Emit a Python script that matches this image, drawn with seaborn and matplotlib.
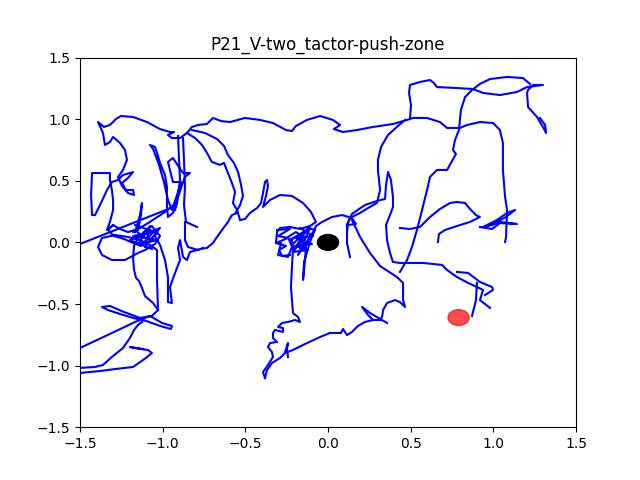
import matplotlib
matplotlib.use("Agg")
import matplotlib.pyplot as plt
import pandas as pd
import seaborn as sns

title = "P21_V-two_tactor-push-zone"
ticks = [-1.5, -1.0, -0.5, 0.0, 0.5, 1.0, 1.5]

# trajectory pieces (x, y)
hook_low = [(-1.585, -1.084), (-1.5, -1.060), (-1.379, -1.044), (-1.288, -1.028), (-1.179, -1.011),
            (-1.101, -0.938), (-1.065, -0.898), (-1.089, -0.873), (-1.137, -0.865), (-1.198, -0.849),
            (-1.119, -0.865)]
hook_up = [(-1.585, -1.036), (-1.5, -1.019), (-1.409, -1.011), (-1.361, -0.995), (-1.307, -0.930),
           (-1.240, -0.857), (-1.198, -0.776), (-1.173, -0.711), (-1.149, -0.670), (-1.125, -0.646)]
left_rise = [(-1.585, -0.890), (-1.5, -0.857), (-1.319, -0.743), (-1.167, -0.646), (-1.077, -0.597),
             (-1.004, -0.654), (-0.944, -0.678), (-0.950, -0.703), (-1.016, -0.678), (-1.101, -0.637),
             (-1.179, -0.613), (-1.258, -0.581), (-1.331, -0.549), (-1.367, -0.524), (-1.319, -0.516),
             (-1.234, -0.565), (-1.137, -0.613), (-1.065, -0.597), (-1.028, -0.549), (-1.058, -0.492),
             (-1.107, -0.435), (-1.125, -0.370), (-1.143, -0.313), (-1.161, -0.289), (-1.173, -0.224),
             (-1.179, -0.127), (-1.173, -0.029), (-1.149, 0.036)]
left_knot = [(-1.149, 0.036), (-1.101, 0.101), (-1.065, 0.133), (-1.034, 0.076), (-1.077, 0.019),
             (-1.125, 0.052), (-1.167, 0.101), (-1.210, 0.084), (-1.258, 0.109), (-1.300, 0.141),
             (-1.331, 0.101), (-1.294, 0.052), (-1.234, 0.028), (-1.179, -0.005), (-1.131, -0.029),
             (-1.089, 0.036), (-1.046, 0.101), (-1.016, 0.052), (-1.046, -0.013), (-1.107, -0.062),
             (-1.149, -0.086), (-1.228, -0.143), (-1.307, -0.143), (-1.367, -0.102), (-1.391, -0.037),
             (-1.367, 0.036), (-1.288, 0.060), (-1.210, 0.044), (-1.137, 0.019), (-1.077, -0.021),
             (-1.034, -0.062), (-1.034, -0.305), (-1.028, -0.549)]
left_zigzag = [(-1.167, 0.141), (-1.046, 0.084), (-1.179, 0.052), (-1.028, 0.019), (-1.149, -0.013),
               (-1.077, 0.133), (-1.107, -0.037), (-1.016, 0.117), (-1.198, 0.019), (-1.065, -0.054)]
left_drops = [(-1.046, 0.052), (-1.016, -0.021), (-0.986, -0.143), (-0.968, -0.281), (-0.968, -0.484),
              (-0.944, -0.492), (-0.956, -0.362), (-0.925, -0.248), (-0.895, -0.143), (-0.907, -0.045),
              (-0.895, 0.019), (-0.877, -0.118), (-0.853, -0.143), (-0.835, -0.078), (-0.774, -0.054),
              (-0.732, -0.045), (-0.696, -0.005), (-0.671, 0.044), (-0.641, 0.101), (-0.605, 0.166),
              (-0.581, 0.222), (-0.550, 0.239)]
spike_left = [(-1.167, 0.084), (-1.137, 0.222), (-1.125, 0.320), (-1.131, 0.222), (-1.149, 0.101)]
diag_left = [(-1.179, 0.084), (-1.077, 0.166), (-0.986, 0.247), (-0.919, 0.320)]
top_run = [(-1.300, 0.141), (-1.337, 0.101), (-1.319, 0.166), (-1.300, 0.263), (-1.300, 0.344),
           (-1.307, 0.425), (-1.319, 0.506), (-1.319, 0.563), (-1.427, 0.563), (-1.433, 0.385),
           (-1.427, 0.222), (-1.409, 0.222), (-1.373, 0.320), (-1.337, 0.425), (-1.307, 0.490),
           (-1.270, 0.506), (-1.240, 0.547), (-1.179, 0.571), (-1.210, 0.523), (-1.246, 0.482),
           (-1.222, 0.425), (-1.179, 0.425), (-1.173, 0.385), (-1.210, 0.401), (-1.246, 0.458),
           (-1.270, 0.531), (-1.240, 0.588), (-1.216, 0.669), (-1.228, 0.750), (-1.258, 0.807),
           (-1.300, 0.856), (-1.319, 0.815), (-1.349, 0.791), (-1.361, 0.888), (-1.391, 0.977),
           (-1.355, 0.937), (-1.319, 0.953), (-1.282, 1.002), (-1.252, 1.026), (-1.179, 1.018),
           (-1.095, 0.977), (-1.016, 0.920), (-0.956, 0.896), (-0.931, 0.896), (-0.968, 0.872),
           (-0.944, 0.847), (-0.895, 0.847), (-0.853, 0.888), (-0.823, 0.937), (-0.786, 0.953),
           (-0.732, 0.961), (-0.696, 1.010), (-0.647, 0.985), (-0.593, 0.977), (-0.502, 1.010),
           (-0.411, 0.994), (-0.333, 0.969), (-0.254, 0.912), (-0.218, 0.904), (-0.194, 0.945),
           (-0.127, 0.994), (-0.048, 1.026), (0.030, 0.994), (0.073, 0.953), (0.036, 0.920),
           (0.091, 0.896), (0.175, 0.912), (0.272, 0.937), (0.393, 0.961), (0.478, 0.994),
           (0.514, 1.010), (0.599, 1.010), (0.677, 0.977), (0.720, 0.929), (0.798, 0.929),
           (0.841, 0.953), (0.919, 0.977), (0.998, 0.969), (1.040, 0.912), (1.058, 0.807),
           (1.058, 0.588), (1.071, 0.369), (1.083, 0.263), (1.077, 0.044), (1.071, 0.003)]
top_right = [(0.496, 1.002), (0.502, 1.115), (0.490, 1.213), (0.496, 1.278), (0.556, 1.302),
             (0.617, 1.318), (0.641, 1.294), (0.659, 1.261), (0.780, 1.253), (0.877, 1.245),
             (0.938, 1.213), (1.040, 1.196), (1.143, 1.221), (1.204, 1.261), (1.300, 1.278),
             (1.240, 1.278), (1.210, 1.237), (1.204, 1.213), (1.210, 1.099), (1.264, 1.018),
             (1.300, 0.937), (1.319, 0.888), (1.313, 0.953), (1.282, 1.010)]
mid_branch = [(1.222, 1.286), (1.179, 1.334), (1.083, 1.343), (0.980, 1.326), (0.919, 1.286),
              (0.871, 1.237), (0.829, 1.180), (0.804, 1.075), (0.792, 0.912), (0.768, 0.831),
              (0.756, 0.750), (0.774, 0.718), (0.744, 0.645), (0.720, 0.588), (0.659, 0.588),
              (0.617, 0.531), (0.599, 0.425), (0.569, 0.263), (0.538, 0.101), (0.508, -0.037),
              (0.478, -0.143), (0.435, -0.240)]
west_branch = [(0.466, 0.994), (0.423, 0.945), (0.363, 0.872), (0.321, 0.775), (0.302, 0.669),
               (0.302, 0.588), (0.315, 0.425), (0.296, 0.320), (0.242, 0.279), (0.194, 0.239),
               (0.133, 0.198), (0.115, 0.142), (0.115, -0.005), (0.133, -0.118)]
east_run = [(0.115, 0.142), (0.145, 0.231), (0.224, 0.304), (0.296, 0.336), (0.345, 0.353),
            (0.351, 0.466), (0.363, 0.572), (0.381, 0.506), (0.393, 0.369), (0.393, 0.288),
            (0.375, 0.222), (0.351, 0.142), (0.357, 0.019), (0.375, -0.086), (0.393, -0.159),
            (0.435, -0.167), (0.575, -0.167), (0.690, -0.183), (0.720, -0.224), (0.780, -0.281),
            (0.847, -0.329), (0.901, -0.362), (0.938, -0.386), (0.919, -0.468), (0.980, -0.532)]
wedge = [(0.435, 0.117), (0.496, 0.109), (0.556, 0.125), (0.617, 0.206), (0.677, 0.271),
         (0.738, 0.320), (0.780, 0.328), (0.829, 0.320), (0.859, 0.271), (0.895, 0.222),
         (0.919, 0.206), (0.859, 0.166), (0.780, 0.133), (0.708, 0.101), (0.671, 0.068),
         (0.665, 0.003)]
right_tangle = [(0.919, 0.125), (0.992, 0.109), (1.040, 0.157), (1.143, 0.149), (1.040, 0.166),
                (0.992, 0.141), (0.950, 0.133), (1.022, 0.182), (1.083, 0.239), (1.131, 0.263),
                (1.077, 0.206), (0.998, 0.149), (0.938, 0.125)]
low_right_a = [(0.780, -0.240), (0.847, -0.248), (0.919, -0.321), (0.992, -0.362), (0.998, -0.386),
               (0.950, -0.427)]
low_right_b = [(0.901, -0.329), (0.895, -0.468), (0.871, -0.597)]
small_loop = [(0.145, 0.182), (0.194, 0.044), (0.254, -0.086), (0.315, -0.192), (0.417, -0.281),
              (0.454, -0.329), (0.454, -0.468), (0.466, -0.524), (0.435, -0.484), (0.405, -0.468),
              (0.357, -0.492), (0.333, -0.549), (0.327, -0.606), (0.315, -0.630), (0.272, -0.630),
              (0.242, -0.589), (0.206, -0.524), (0.254, -0.573), (0.296, -0.606), (0.357, -0.654)]
bottom_run = [(0.272, -0.630), (0.224, -0.646), (0.181, -0.678), (0.145, -0.727), (0.115, -0.752),
              (0.091, -0.703), (0.079, -0.735), (0.012, -0.735), (-0.048, -0.768), (-0.127, -0.817),
              (-0.212, -0.873), (-0.260, -0.898), (-0.290, -0.938), (-0.339, -0.979), (-0.369, -1.036),
              (-0.381, -1.101)]
bottom_wiggle = [(-0.260, -0.890), (-0.242, -0.817), (-0.248, -0.865), (-0.242, -0.930)]
knot_drop = [(-0.218, 0.019), (-0.212, -0.062), (-0.218, -0.200), (-0.224, -0.362), (-0.218, -0.468),
             (-0.212, -0.573), (-0.181, -0.606), (-0.169, -0.646), (-0.200, -0.630), (-0.242, -0.646),
             (-0.278, -0.654), (-0.302, -0.687), (-0.272, -0.695), (-0.272, -0.727), (-0.321, -0.711),
             (-0.333, -0.735), (-0.333, -0.776), (-0.308, -0.808), (-0.351, -0.817), (-0.363, -0.849),
             (-0.339, -0.890), (-0.333, -0.930), (-0.363, -0.995), (-0.393, -1.052), (-0.381, -1.101)]
centre_knot = [(-0.532, 0.182), (-0.502, 0.190), (-0.472, 0.239), (-0.429, 0.279), (-0.405, 0.320),
               (-0.393, 0.401), (-0.381, 0.490), (-0.369, 0.506), (-0.363, 0.458), (-0.375, 0.377),
               (-0.393, 0.288), (-0.351, 0.344), (-0.290, 0.385), (-0.218, 0.377), (-0.151, 0.320),
               (-0.103, 0.247), (-0.073, 0.166), (-0.109, 0.133), (-0.169, 0.109), (-0.230, 0.125),
               (-0.290, 0.117), (-0.308, 0.084), (-0.315, -0.005), (-0.284, -0.005), (-0.302, -0.102),
               (-0.242, -0.118), (-0.218, -0.037), (-0.242, 0.044), (-0.194, 0.084), (-0.139, 0.036),
               (-0.181, -0.029), (-0.151, -0.062), (-0.109, 0.052), (-0.079, 0.101), (-0.121, 0.117),
               (-0.169, 0.019), (-0.200, -0.062), (-0.218, -0.021), (-0.169, 0.044), (-0.133, -0.037),
               (-0.139, -0.143), (-0.151, -0.305), (-0.145, -0.159), (-0.109, 0.003), (-0.085, 0.084),
               (-0.073, 0.133), (-0.036, 0.166), (0.024, 0.206), (0.085, 0.222), (0.145, 0.198),
               (0.169, 0.149), (0.121, 0.142), (0.115, 0.084)]
centre_zigzag = [(-0.169, 0.117), (-0.091, 0.052), (-0.194, 0.036), (-0.097, -0.013), (-0.200, -0.029),
                 (-0.121, -0.062), (-0.212, -0.078), (-0.139, 0.084), (-0.230, 0.019), (-0.109, 0.117),
                 (-0.181, -0.102), (-0.079, 0.101)]
centre_box = [(-0.308, 0.101), (-0.230, 0.109), (-0.302, 0.052), (-0.242, 0.036), (-0.315, -0.005),
              (-0.254, -0.029), (-0.296, -0.062), (-0.278, -0.110), (-0.230, -0.102)]
curve_a = [(-0.853, 0.888), (-0.804, 0.847), (-0.762, 0.791), (-0.732, 0.726), (-0.702, 0.653),
           (-0.653, 0.629), (-0.629, 0.645), (-0.605, 0.563), (-0.581, 0.482), (-0.562, 0.409),
           (-0.575, 0.320), (-0.550, 0.263), (-0.532, 0.182)]
curve_b = [(-0.823, 0.912), (-0.744, 0.888), (-0.671, 0.839), (-0.629, 0.783), (-0.605, 0.709),
           (-0.569, 0.645), (-0.544, 0.572), (-0.526, 0.466), (-0.514, 0.377), (-0.532, 0.304),
           (-0.556, 0.247)]
v_shape = [(-0.907, 0.864), (-0.901, 0.669), (-0.895, 0.506), (-0.913, 0.320), (-0.938, 0.239),
           (-0.968, 0.206), (-0.974, 0.288), (-0.974, 0.450), (-0.986, 0.547), (-1.016, 0.645),
           (-1.034, 0.726), (-1.046, 0.775), (-1.077, 0.791), (-1.058, 0.758), (-1.022, 0.629),
           (-0.992, 0.490), (-0.968, 0.344), (-0.944, 0.263), (-0.913, 0.385), (-0.889, 0.490),
           (-0.913, 0.490), (-0.938, 0.490), (-0.968, 0.653), (-0.938, 0.685), (-0.877, 0.563),
           (-0.835, 0.563), (-0.865, 0.531), (-0.883, 0.466), (-0.913, 0.344), (-0.925, 0.263)]
v_right = [(-0.877, 0.847), (-0.871, 0.669), (-0.865, 0.450), (-0.871, 0.304), (-0.859, 0.166),
           (-0.792, 0.125)]
knot_right = [(-0.865, 0.166), (-0.865, 0.019), (-0.847, -0.037), (-0.786, -0.062), (-0.756, -0.045)]
long_left = [(-0.919, 0.296), (-1.5, -0.013), (-1.585, -0.054)]

segments = [hook_low, hook_up, left_rise, left_knot, left_zigzag, left_drops, spike_left, diag_left,
            top_run, top_right, mid_branch, west_branch, east_run, wedge, right_tangle, low_right_a,
            low_right_b, small_loop, bottom_run, bottom_wiggle, knot_drop, centre_knot, centre_zigzag,
            centre_box, curve_a, curve_b, v_shape, v_right, knot_right, long_left]

rows = []
for sid, pts in enumerate(segments):
    for k, (px, py) in enumerate(pts):
        rows.append({"seg": sid, "order": k, "x": px, "y": py})
df = pd.DataFrame(rows)

start_xy = (0.0, 0.0)
goal_xy = (0.79, -0.61)
marker_r = 0.064

fig, ax = plt.subplots(figsize=(6.4, 4.8), dpi=100)
sns.lineplot(data=df, x="x", y="y", units="seg", estimator=None, sort=False,
             color="blue", linewidth=1.5, ax=ax)
ax.add_patch(plt.Circle(start_xy, marker_r, color="black", zorder=3))
ax.add_patch(plt.Circle(goal_xy, marker_r, color="red", alpha=0.7, zorder=3))
ax.set_xlim(-1.5, 1.5)
ax.set_ylim(-1.5, 1.5)
ax.set_xticks(ticks)
ax.set_yticks(ticks)
ax.set_xlabel("")
ax.set_ylabel("")
ax.set_title(title)
fig.savefig("out.png", dpi=100)
